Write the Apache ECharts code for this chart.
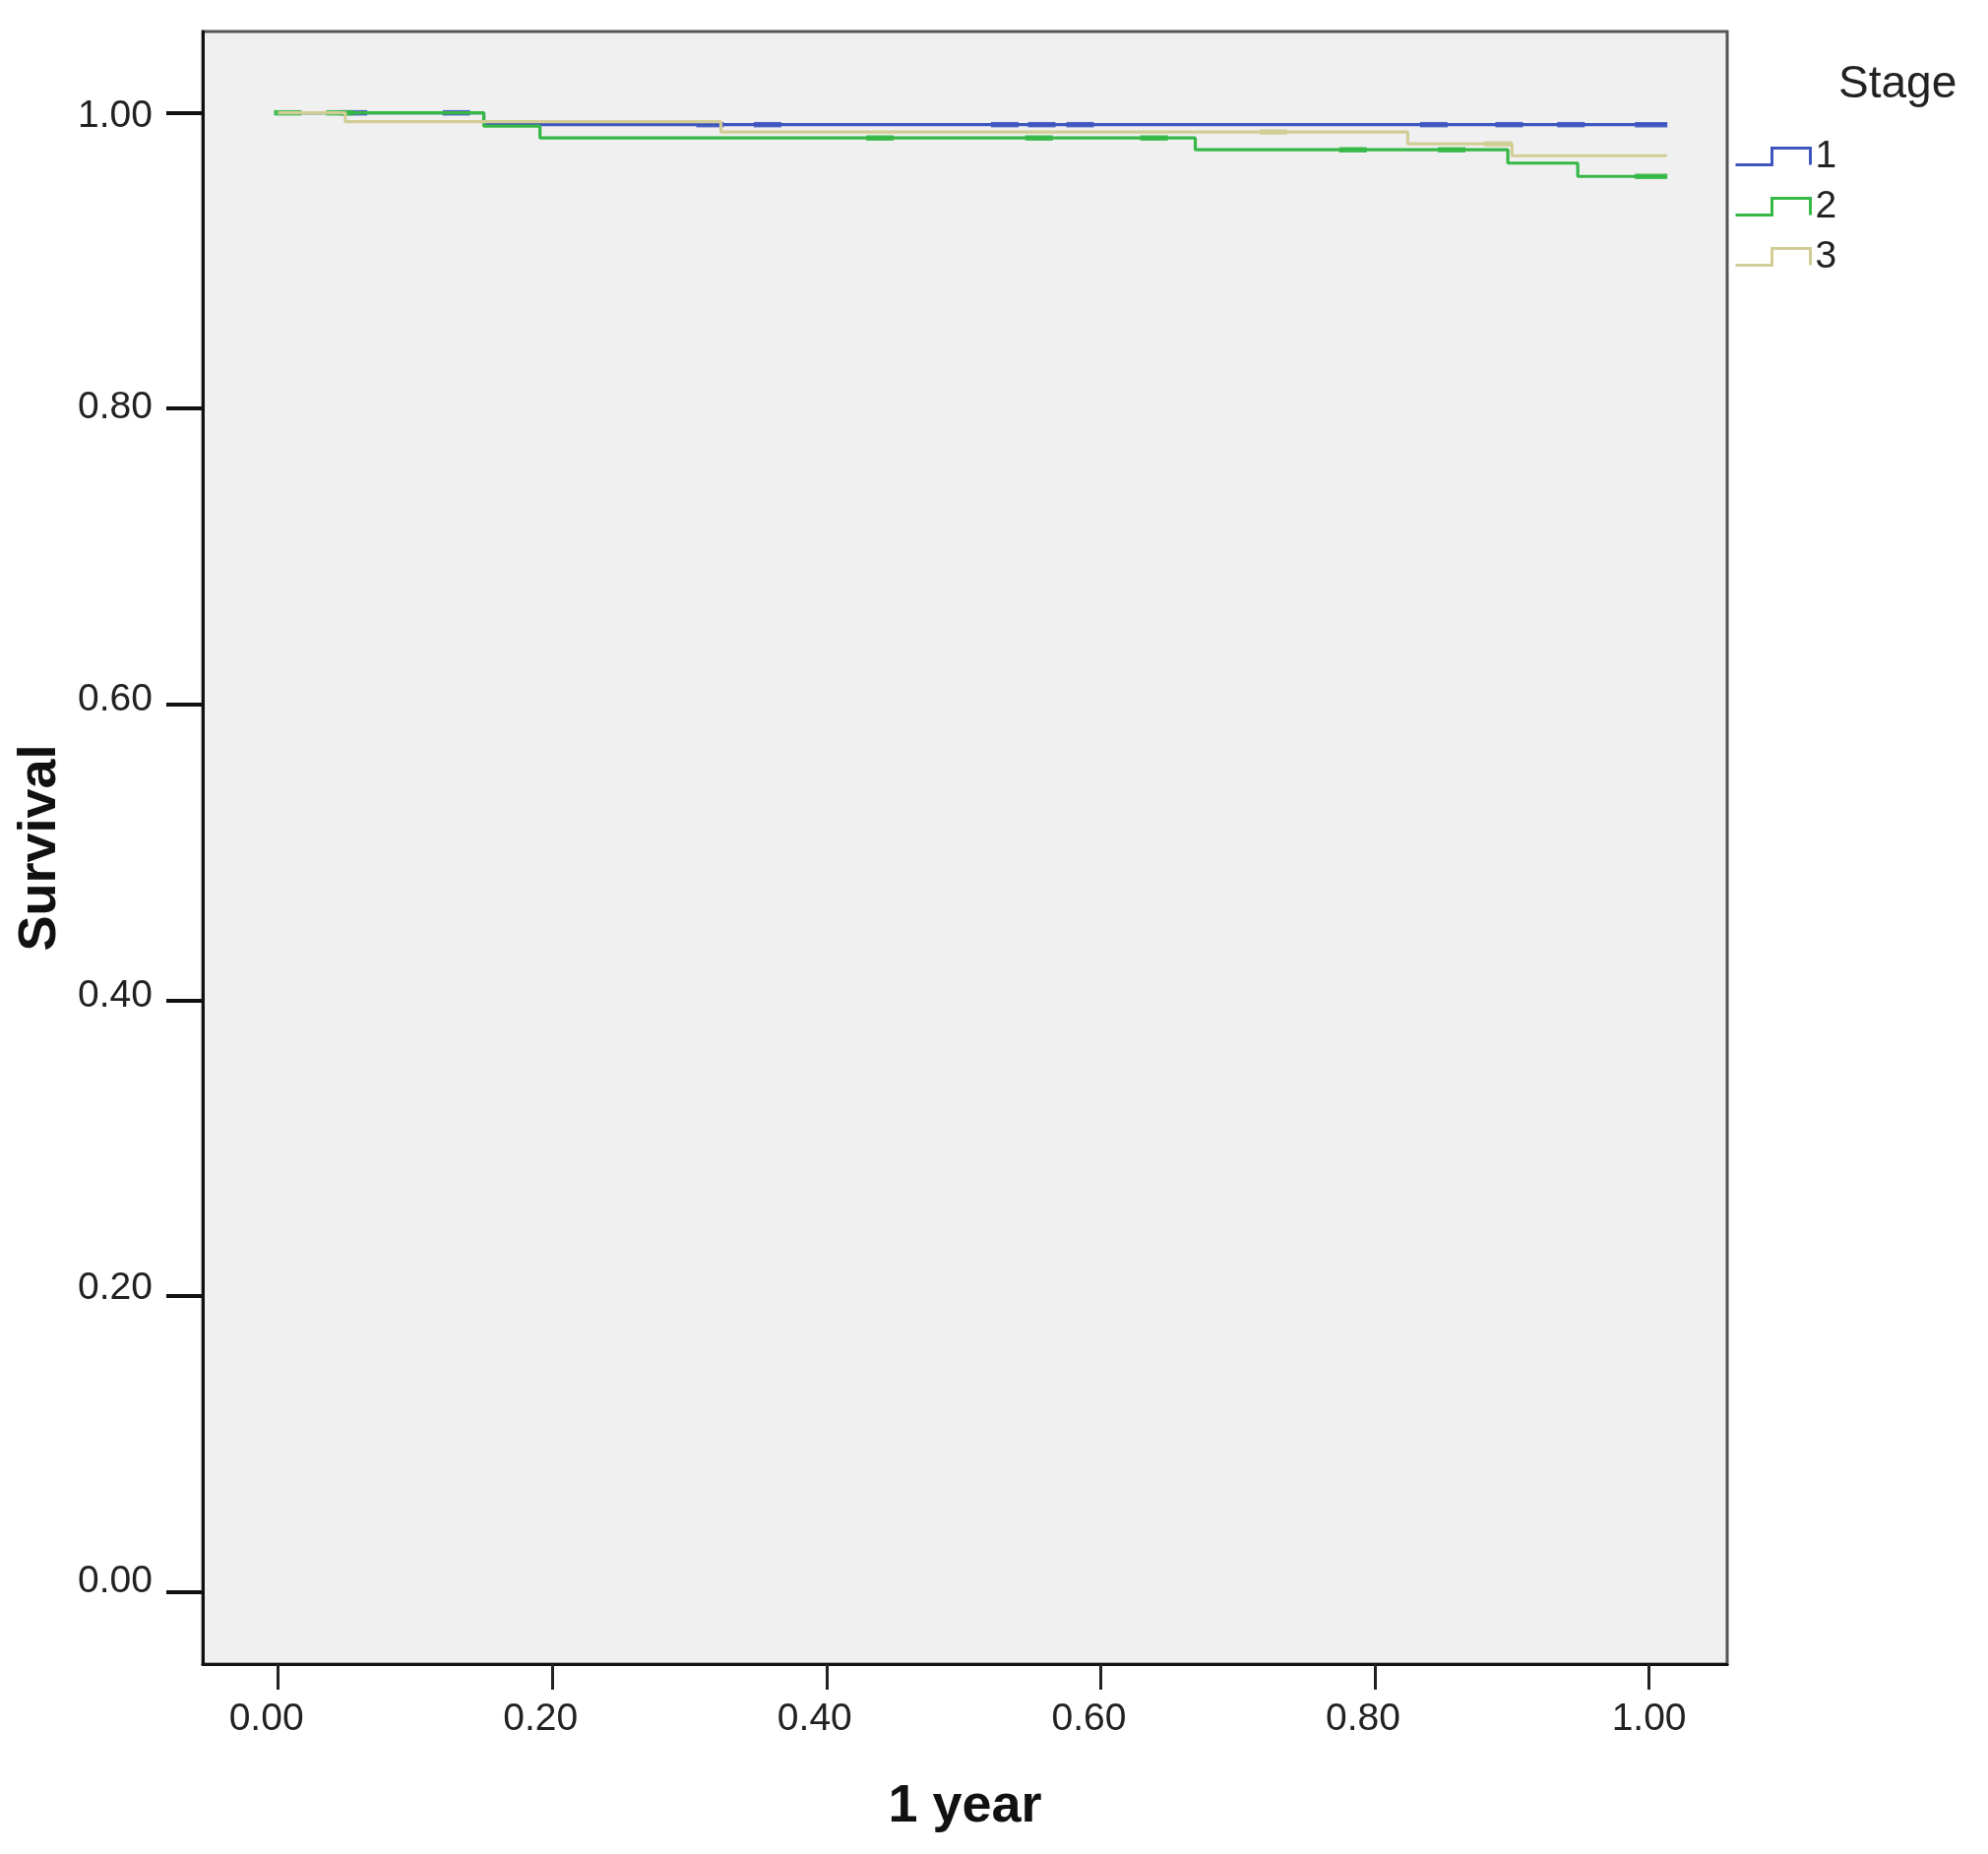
<!DOCTYPE html>
<html>
<head>
<meta charset="utf-8">
<script src="https://cdn.jsdelivr.net/npm/echarts@6/dist/echarts.min.js"></script>
<style>
  html, body { margin: 0; padding: 0; background: #ffffff; }
  #chart { width: 2020px; height: 1884px; }
</style>
</head>
<body>
<div id="chart"></div>
<script>
// ---- data ----
const stageNames = ['1', '2', '3'];
const xTicks = [0, 0.2, 0.4, 0.6, 0.8, 1.0];
const yTicks = [0, 0.2, 0.4, 0.6, 0.8, 1.0];

// Kaplan-Meier step points [time, survival]
const stage1 = [[0, 1.0], [0.150, 0.992], [1.013, 0.992]];
const stage2 = [[0, 1.0], [0.150, 0.991], [0.191, 0.983], [0.669, 0.975], [0.897, 0.966], [0.948, 0.957], [1.013, 0.957]];
const stage3 = [[0, 1.0], [0.049, 0.994], [0.323, 0.987], [0.824, 0.979], [0.900, 0.971], [1.013, 0.971]];

// censored observations [time, survival]
const censor1 = [[0.055, 1.0], [0.130, 1.0], [0.315, 0.992], [0.357, 0.992], [0.530, 0.992], [0.557, 0.992], [0.585, 0.992], [0.843, 0.992], [0.898, 0.992], [0.943, 0.992]];
const censor1End = [[1.0015, 0.992]];
const censor2 = [[0.007, 1.0], [0.045, 1.0], [0.439, 0.983], [0.555, 0.983], [0.639, 0.983], [0.784, 0.975], [0.856, 0.975]];
const censor2End = [[1.0015, 0.957]];
const censor3 = [[0.726, 0.987], [0.890, 0.979]];

const colors = ['#3f56bf', '#35b846', '#d2cd96'];
const FONT = '"Liberation Sans", Arial, sans-serif';

const chart = echarts.init(document.getElementById('chart'), null, { renderer: 'canvas' });

function fmt(v) { return v.toFixed(2); }

function lineSeries(name, data, color, z) {
  return {
    name: name, type: 'line', step: 'end', data: data,
    showSymbol: false, symbol: 'none', z: z,
    lineStyle: { color: color, width: 3.2 },
    itemStyle: { color: color },
    emphasis: { disabled: true }, animation: false
  };
}
function censorSeries(name, data, color, w, z) {
  return {
    name: name, type: 'scatter', data: data, symbol: 'rect',
    symbolSize: [w, 5.5], z: z,
    itemStyle: { color: color, opacity: 0.9 },
    emphasis: { disabled: true }, animation: false
  };
}

const yLabelRich = {};
// small vertical nudges of the y tick labels (as in the reference)
const yNudge = { '0.00': -10, '0.20': -8, '0.40': -4, '0.60': -4, '0.80': -1, '1.00': 4 };
Object.keys(yNudge).forEach(function (k, i) {
  const d = yNudge[k];
  yLabelRich['y' + i] = {
    fontFamily: FONT, fontSize: 39, color: '#222222',
    padding: d < 0 ? [0, 0, -2 * d, 0] : [2 * d, 0, 0, 0]
  };
});

const option = {
  backgroundColor: '#ffffff',
  animation: false,
  textStyle: { fontFamily: FONT },
  title: {
    text: 'Stage', left: 1863, top: 58,
    textStyle: { fontFamily: FONT, fontSize: 46, fontWeight: 'normal', color: '#222222' }
  },
  legend: {
    orient: 'vertical', left: 1757, top: 129,
    itemWidth: 76, itemHeight: 17, itemGap: 1,
    selectedMode: false,
    icon: 'path://M0,17L37,17L37,0L76,0L76,17',
    textStyle: { fontFamily: FONT, fontSize: 39, color: '#222222', lineHeight: 30, padding: [20, 0, 0, 0] },
    data: stageNames.map((n, i) => ({
      name: n,
      itemStyle: { color: 'transparent', borderColor: colors[i], borderWidth: 3 }
    }))
  },
  grid: {
    left: 206, right: 265, top: 32, bottom: 193,
    show: true, backgroundColor: '#f0f0f0', borderColor: '#555555', borderWidth: 3
  },
  xAxis: {
    type: 'value', min: -0.055, max: 1.057,
    name: '1 year', nameLocation: 'middle', nameGap: 118,
    nameTextStyle: { fontFamily: FONT, fontSize: 54, fontWeight: 'bold', color: '#111111' },
    axisLine: { show: true, onZero: false, lineStyle: { color: '#111111', width: 3 } },
    axisTick: { show: true, inside: false, length: 26, customValues: xTicks, lineStyle: { color: '#222222', width: 3 } },
    axisLabel: {
      customValues: xTicks, margin: 37,
      formatter: function (v) { return v >= 0.999 ? '{b|' + fmt(v) + '}' : '{a|' + fmt(v) + '}'; },
      rich: {
        a: { fontFamily: FONT, fontSize: 39, color: '#222222', padding: [0, 24, 0, 0] },
        b: { fontFamily: FONT, fontSize: 39, color: '#222222' }
      }
    },
    splitLine: { show: false }
  },
  yAxis: {
    type: 'value', min: -0.049, max: 1.055,
    name: 'Survival', nameLocation: 'middle', nameGap: 127, nameRotate: 90,
    nameTextStyle: { fontFamily: FONT, fontSize: 54, fontWeight: 'bold', color: '#111111' },
    axisLine: { show: true, onZero: false, lineStyle: { color: '#111111', width: 3 } },
    axisTick: { show: true, inside: false, length: 37, customValues: yTicks, lineStyle: { color: '#111111', width: 4 } },
    axisLabel: {
      customValues: yTicks, margin: 51,
      formatter: function (v) {
        const s = fmt(v);
        const i = Object.keys(yNudge).indexOf(s);
        return i >= 0 ? '{y' + i + '|' + s + '}' : s;
      },
      rich: yLabelRich
    },
    splitLine: { show: false }
  },
  series: [
    lineSeries('1', stage1, colors[0], 2),
    lineSeries('2', stage2, colors[1], 3),
    lineSeries('3', stage3, colors[2], 4),
    censorSeries('1', censor1, colors[0], 28, 2),
    censorSeries('1', censor1End, colors[0], 33, 2),
    censorSeries('2', censor2, colors[1], 28, 3),
    censorSeries('2', censor2End, colors[1], 33, 3),
    censorSeries('3', censor3, colors[2], 28, 4)
  ]
};
chart.setOption(option);
</script>
</body>
</html>
